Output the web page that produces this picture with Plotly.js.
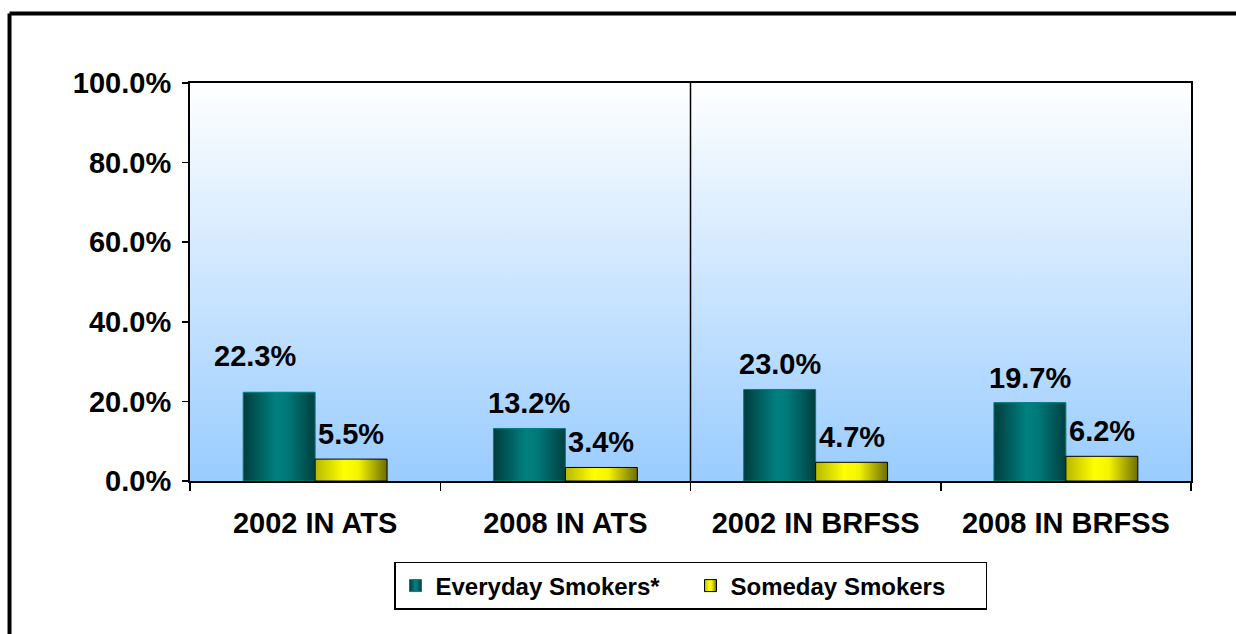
<!DOCTYPE html>
<html>
<head>
<meta charset="utf-8">
<script src="https://cdn.plot.ly/plotly-3.0.1.min.js"></script>
<style>
  html, body { margin: 0; padding: 0; background: #fff; }
  #chart { width: 1236px; height: 634px; }
</style>
</head>
<body>
<div id="chart"></div>
<script>
// Porcentaje de fumadores diarios / ocasionales por encuesta
const categorias = ['2002 IN ATS', '2008 IN ATS', '2002 IN BRFSS', '2008 IN BRFSS'];
const everyday = [22.3, 13.2, 23.0, 19.7];
const someday = [5.5, 3.4, 4.7, 6.2];
const nombres = ['Everyday Smokers*', 'Someday Smokers'];

const FUENTE = 'Arial, "Liberation Sans", sans-serif';
const chartDiv = document.getElementById('chart');

const barraEveryday = {
  type: 'bar',
  x: categorias,
  y: everyday,
  name: nombres[0],
  marker: { color: '#007070', line: { color: '#008080', width: 1 } },
  hoverinfo: 'skip',
};

const barraSomeday = {
  type: 'bar',
  x: categorias,
  y: someday,
  name: nombres[1],
  marker: { color: '#e0e000', line: { color: '#000000', width: 1 } },
  hoverinfo: 'skip',
};

// etiquetas de valor encima de cada barra
const anotaciones = [];
[everyday, someday].forEach((serie, s) => {
  serie.forEach((v, i) => {
    const especial = s === 0 && i === 0; // la primera etiqueta está movida en el original
    anotaciones.push({
      x: categorias[i],
      y: v,
      xref: 'x',
      yref: 'y',
      text: v.toFixed(1) + '%',
      showarrow: false,
      xanchor: 'center',
      yanchor: 'middle',
      xshift: (s === 0 ? -36 : 36) + (especial ? -24 : 0),
      yshift: especial ? 36 : 25,
      font: { family: FUENTE, size: 29, color: '#000', weight: 700 },
    });
  });
});

const layout = {
  width: 1236,
  height: 634,
  margin: { l: 190, r: 45, t: 83, b: 153 },
  paper_bgcolor: '#ffffff',
  plot_bgcolor: '#cce5ff',
  font: { family: FUENTE, color: '#000', size: 29, weight: 700 },
  barmode: 'group',
  bargap: 0.425,
  bargroupgap: 0,
  showlegend: true,
  xaxis: {
    type: 'category',
    showline: true,
    linecolor: '#000',
    linewidth: 2,
    mirror: true,
    ticks: 'outside',
    tickson: 'boundaries',
    ticklen: 8,
    tickcolor: '#000',
    tickwidth: 1.5,
    ticklabelstandoff: 15,
    tickfont: { family: FUENTE, size: 29, color: '#000', weight: 700 },
    showgrid: false,
    zeroline: false,
    fixedrange: true,
  },
  yaxis: {
    range: [0, 100],
    dtick: 20,
    tickformat: '.1f',
    ticksuffix: '%',
    showline: true,
    linecolor: '#000',
    linewidth: 2,
    mirror: true,
    ticks: 'outside',
    ticklen: 6,
    tickcolor: '#000',
    tickwidth: 1.5,
    ticklabelstandoff: 5,
    tickfont: { family: FUENTE, size: 29, color: '#000', weight: 700 },
    showgrid: false,
    zeroline: false,
    fixedrange: true,
  },
  legend: {
    orientation: 'h',
    x: 0.5,
    xanchor: 'center',
    y: -0.2035,
    yanchor: 'top',
    bordercolor: '#000',
    borderwidth: 1.5,
    bgcolor: '#ffffff',
    entrywidth: 250,
    font: { family: FUENTE, size: 24, color: '#000', weight: 700 },
    itemclick: false,
    itemdoubleclick: false,
  },
  annotations: anotaciones,
  shapes: [
    // separador entre ATS y BRFSS
    { type: 'line', xref: 'paper', yref: 'paper', x0: 0.5, x1: 0.5, y0: 0, y1: 1,
      line: { color: '#000', width: 1.5 } },
    // marco exterior (solo izquierda y arriba quedan visibles)
    { type: 'line', xref: 'paper', yref: 'paper', x0: -0.1803, x1: -0.1803, y0: -0.6, y1: 1.1746,
      line: { color: '#000', width: 4 } },
    { type: 'line', xref: 'paper', yref: 'paper', x0: -0.1803, x1: 1.2, y0: 1.1746, y1: 1.1746,
      line: { color: '#000', width: 4 } },
  ],
};

const config = { displayModeBar: false, staticPlot: true };

function agregarGradiente(defs, id, vertical, paradas) {
  const ns = 'http://www.w3.org/2000/svg';
  const g = document.createElementNS(ns, 'linearGradient');
  g.setAttribute('id', id);
  g.setAttribute('x1', '0');
  g.setAttribute('y1', '0');
  g.setAttribute('x2', vertical ? '0' : '1');
  g.setAttribute('y2', vertical ? '1' : '0');
  paradas.forEach(([offset, color]) => {
    const st = document.createElementNS(ns, 'stop');
    st.setAttribute('offset', offset);
    st.setAttribute('stop-color', color);
    g.appendChild(st);
  });
  defs.appendChild(g);
}

Plotly.newPlot(chartDiv, [barraEveryday, barraSomeday], layout, config).then(() => {
  const svg = chartDiv.querySelector('.main-svg');
  const defs = svg.querySelector('defs');
  agregarGradiente(defs, 'fondoGrad', true, [[0, '#ffffff'], [1, '#99ccff']]);
  agregarGradiente(defs, 'tealGrad', false, [[0, '#003c3c'], [0.45, '#008080'], [0.6, '#007a7a'], [1, '#004040']]);
  agregarGradiente(defs, 'amarilloGrad', false, [[0, '#b8b800'], [0.4, '#ffff00'], [0.6, '#f4f400'], [1, '#6e6e00']]);

  const bg = svg.querySelector('.bglayer rect.bg');
  if (bg) bg.style.fill = 'url(#fondoGrad)';

  const grads = ['url(#tealGrad)', 'url(#amarilloGrad)'];
  chartDiv.querySelectorAll('.barlayer .trace').forEach((tr, i) => {
    tr.querySelectorAll('path').forEach(p => { p.style.fill = grads[i]; });
  });
  chartDiv.querySelectorAll('.legend .traces').forEach((tr, i) => {
    tr.querySelectorAll('.legendpoints path').forEach(p => { p.style.fill = grads[i]; });
  });
});
</script>
</body>
</html>
